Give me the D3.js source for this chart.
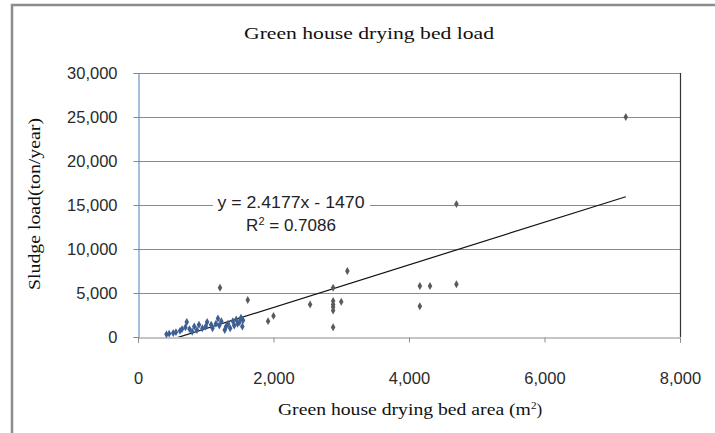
<!DOCTYPE html>
<html>
<head>
<meta charset="utf-8">
<script src="https://cdn.jsdelivr.net/npm/d3@7"></script>
<style>
  body { margin: 0; background: #fff; }
  svg { display: block; }
</style>
</head>
<body>
<svg id="chart" width="715" height="433"></svg>
<script>

// area of greenhouse drying bed (m2)
const areaValues = [
    420, 460, 520, 560, 620, 650, 700, 720, 760, 800,
    830, 870, 900, 950, 1000, 1020, 1080, 1100, 1150, 1180,
    1200, 1230, 1280, 1300, 1330, 1360, 1400, 1420, 1450, 1470,
    1500, 1520, 1540, 1550,
    1210, 1620, 1920, 2000, 2540, 2880, 2880, 2880, 2880, 2880,
    2880, 3000, 3090, 4160, 4310, 4160, 4700, 4700, 7200
];

// sludge load (ton/year)
const loadValues = [
    300, 380, 450, 550, 700, 900, 1100, 1700, 900, 600,
    1200, 800, 1400, 1000, 1200, 1700, 1400, 1000, 1500, 2100,
    1300, 1800, 800, 1200, 1500, 1000, 1800, 1300, 2000, 1500,
    1700, 2200, 1200, 1900,
    5600, 4200, 1800, 2400, 3700, 5600, 4100, 3700, 3400, 3000,
    1100, 4000, 7500, 5800, 5800, 3500, 6000, 15100, 25000
];

const xTicks = [0, 2000, 4000, 6000, 8000];
const yTicks = [0, 5000, 10000, 15000, 20000, 25000, 30000];

// linear trend as printed on the chart
const trendSlope = 2.4177;
const trendIntercept = -1470;
const trendLabel = 'y = 2.4177x - 1470';
const r2Label = '0.7086';

const svg = d3.select('#chart');

const plot = { left: 138, right: 680, top: 73, bottom: 337 };

const x = d3.scaleLinear().domain([0, 8000]).range([plot.left, plot.right]);
const y = d3.scaleLinear().domain([0, 30000]).range([plot.bottom, plot.top]);

const points = areaValues.map((a, i) => ({ a: a, l: loadValues[i] }));

// outer frame (cut by the page edge)
svg.append('path')
    .attr('d', 'M12,440 L12,5 L720,5')
    .attr('fill', 'none')
    .attr('stroke', '#8c8c8c')
    .attr('stroke-width', 2.5);

// title
svg.append('text')
    .attr('x', 369)
    .attr('y', 39)
    .attr('text-anchor', 'middle')
    .attr('font-family', 'Liberation Serif')
    .attr('font-size', 16)
    .attr('textLength', 250)
    .attr('lengthAdjust', 'spacingAndGlyphs')
    .attr('fill', '#111')
    .text('Green house drying bed load');

// gridlines
svg.append('g')
    .selectAll('line')
    .data(yTicks.slice(1))
    .enter()
    .append('line')
    .attr('x1', plot.left)
    .attr('x2', plot.right)
    .attr('y1', d => y(d) + 0.5)
    .attr('y2', d => y(d) + 0.5)
    .attr('stroke', '#8a8a8a')
    .attr('stroke-width', 1);

// y axis
let yAxis = svg.append('g')
    .attr('transform', 'translate(' + (plot.left + 0.5) + ',0)')
    .call(d3.axisLeft(y).tickValues(yTicks).tickSize(5).tickPadding(16)
        .tickFormat(d3.format(',')));

yAxis.select('.domain').attr('stroke', '#4f7fbd');
yAxis.selectAll('.tick line').attr('stroke', '#8a8a8a');
yAxis.selectAll('.tick text')
    .attr('font-family', 'Liberation Sans')
    .attr('font-size', 16.5)
    .attr('fill', '#2a2a2a')
    .attr('dy', '0.35em');

// x axis
let xAxis = svg.append('g')
    .attr('transform', 'translate(0,' + (plot.bottom + 0.5) + ')')
    .call(d3.axisBottom(x).tickValues(xTicks).tickSize(5).tickPadding(41)
        .tickFormat(d3.format(',')));

xAxis.select('.domain').attr('stroke', '#8a8a8a');
xAxis.selectAll('.tick line').attr('stroke', '#8a8a8a');
xAxis.selectAll('.tick text')
    .attr('font-family', 'Liberation Sans')
    .attr('font-size', 16.5)
    .attr('fill', '#2a2a2a')
    .attr('dy', '0');

// right border of plot area
svg.append('line')
    .attr('x1', plot.right + 0.5)
    .attr('x2', plot.right + 0.5)
    .attr('y1', plot.top)
    .attr('y2', plot.bottom)
    .attr('stroke', '#333')
    .attr('stroke-width', 1.2);

// axis titles
svg.append('text')
    .attr('transform', 'translate(40,204) rotate(-90)')
    .attr('text-anchor', 'middle')
    .attr('font-family', 'Liberation Serif')
    .attr('font-size', 17)
    .attr('textLength', 172)
    .attr('lengthAdjust', 'spacingAndGlyphs')
    .attr('fill', '#111')
    .text('Sludge load(ton/year)');

let xTitle = svg.append('text')
    .attr('x', 410)
    .attr('y', 415)
    .attr('text-anchor', 'middle')
    .attr('font-family', 'Liberation Serif')
    .attr('font-size', 17)
    .attr('fill', '#111');

xTitle.append('tspan')
    .attr('textLength', 253)
    .attr('lengthAdjust', 'spacingAndGlyphs')
    .text('Green house drying bed area (m');
xTitle.append('tspan').attr('font-size', 11).attr('dy', -6).text('2');
xTitle.append('tspan').attr('dy', 6).text(')');

// trendline, clipped to the plot area
svg.append('clipPath')
    .attr('id', 'plotClip')
    .append('rect')
    .attr('x', plot.left)
    .attr('y', plot.top)
    .attr('width', plot.right - plot.left)
    .attr('height', plot.bottom - plot.top);

const xExtent = d3.extent(areaValues);

svg.append('line')
    .attr('clip-path', 'url(#plotClip)')
    .attr('x1', x(xExtent[0]))
    .attr('y1', y(trendSlope * xExtent[0] + trendIntercept))
    .attr('x2', x(xExtent[1]))
    .attr('y2', y(trendSlope * xExtent[1] + trendIntercept))
    .attr('stroke', '#111')
    .attr('stroke-width', 1.2);

// equation label with white background
svg.append('rect')
    .attr('x', 213)
    .attr('y', 192)
    .attr('width', 157)
    .attr('height', 44)
    .attr('fill', '#fff');

svg.append('text')
    .attr('x', 291)
    .attr('y', 208)
    .attr('text-anchor', 'middle')
    .attr('font-family', 'Liberation Sans')
    .attr('font-size', 17)
    .attr('textLength', 147)
    .attr('lengthAdjust', 'spacingAndGlyphs')
    .attr('fill', '#222')
    .text(trendLabel);

let r2 = svg.append('text')
    .attr('x', 291)
    .attr('y', 231)
    .attr('text-anchor', 'middle')
    .attr('font-family', 'Liberation Sans')
    .attr('font-size', 17)
    .attr('fill', '#222');

r2.append('tspan').text('R');
r2.append('tspan').attr('font-size', 11).attr('dy', -6).text('2');
r2.append('tspan').attr('dy', 6).text(' = ' + r2Label);

// data points
svg.append('g')
    .selectAll('path')
    .data(points)
    .enter()
    .append('path')
    .attr('transform', d => 'translate(' + x(d.a) + ',' + y(d.l) + ')')
    .attr('d', d3.symbol().type(d3.symbolDiamond).size(18))
    .attr('fill', d => d.a < 1600 && d.l < 3000 ? '#3d5f94' : '#5a5a5a');

</script>
</body>
</html>
